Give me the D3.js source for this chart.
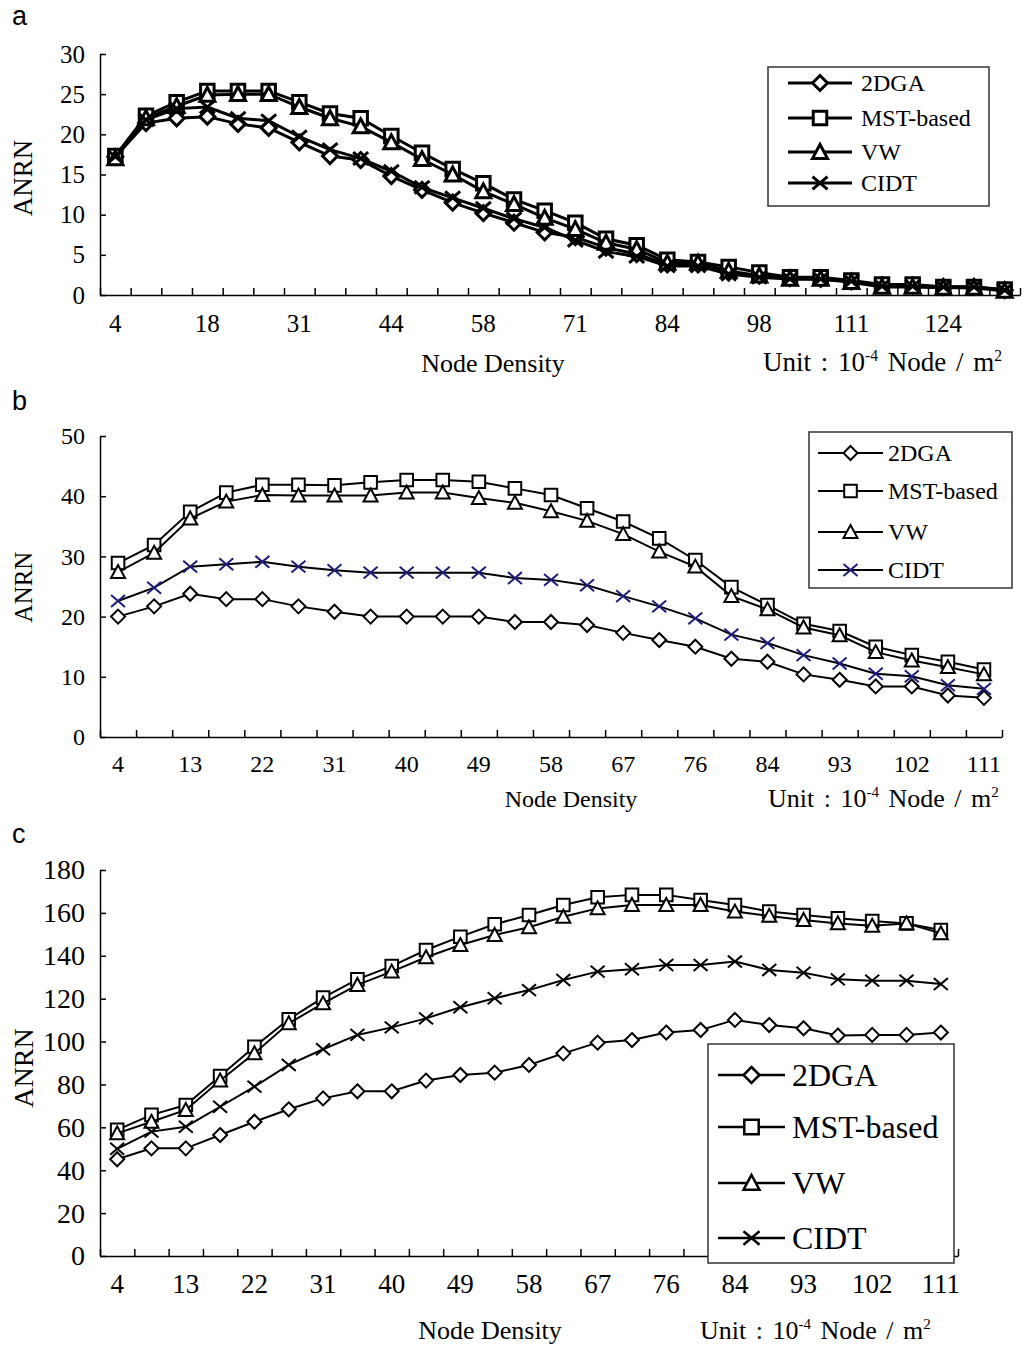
<!DOCTYPE html>
<html>
<head>
<meta charset="utf-8">
<script src="https://cdn.jsdelivr.net/npm/d3@7"></script>
<style>
  body { margin: 0; background: #fff; }
  text { font-family: "Liberation Serif", "Times New Roman", serif; fill: #000; }
  .letter { font-family: "Liberation Sans", Arial, sans-serif; }
</style>
</head>
<body>
<svg id="chart" width="1026" height="1347"></svg>
<script>
// node density categories (unit 10^-4 node / m^2)
const density = [4, 9, 13, 18, 22, 27, 31, 36, 40, 44, 49, 53, 58, 62, 67, 71, 76, 80, 84, 89, 93, 98, 102, 107, 111, 116, 120, 124, 129, 133];

const seriesNames = ['2DGA', 'MST-based', 'VW', 'CIDT'];
const seriesShapes = ['diamond', 'square', 'triangle', 'x'];

// panel a
const yTicksA = [0, 5, 10, 15, 20, 25, 30];
const a2DGA = [17.2, 21.4, 22.0, 22.2, 21.3, 20.8, 19.0, 17.3, 16.8, 14.8, 13.1, 11.5, 10.2, 9.0, 7.8, 7.2, 5.9, 5.1, 3.8, 3.8, 2.8, 2.4, 2.1, 2.0, 1.7, 1.2, 1.2, 1.0, 1.0, 0.6];
const aMST = [17.3, 22.3, 24.0, 25.4, 25.4, 25.4, 24.0, 22.6, 22.0, 19.8, 17.7, 15.7, 13.9, 11.9, 10.5, 9.0, 7.0, 6.2, 4.4, 4.1, 3.5, 2.8, 2.2, 2.2, 1.8, 1.3, 1.3, 1.0, 1.0, 0.7];
const aVW = [17.0, 22.0, 23.5, 24.9, 25.0, 25.0, 23.4, 22.0, 21.0, 19.0, 16.9, 15.0, 12.9, 11.3, 9.6, 8.2, 6.5, 5.7, 4.0, 4.0, 3.0, 2.4, 2.0, 2.0, 1.6, 1.0, 1.0, 0.9, 0.9, 0.5];
const aCIDT = [17.2, 21.8, 23.2, 23.4, 22.0, 21.7, 19.7, 18.1, 17.0, 15.4, 13.4, 12.1, 10.8, 9.5, 8.4, 6.8, 5.4, 4.8, 3.6, 3.6, 2.6, 2.2, 2.0, 2.0, 1.7, 1.1, 1.1, 1.0, 1.0, 0.6];

// panel b
const yTicksB = [0, 10, 20, 30, 40, 50];
const b2DGA = [20.0, 21.7, 23.8, 22.9, 22.9, 21.7, 20.8, 20.0, 20.0, 20.0, 20.0, 19.1, 19.1, 18.6, 17.3, 16.1, 15.0, 13.0, 12.5, 10.4, 9.5, 8.4, 8.4, 6.9, 6.5];
const bMST = [28.9, 31.9, 37.4, 40.6, 41.9, 41.9, 41.8, 42.3, 42.7, 42.7, 42.4, 41.3, 40.2, 38.0, 35.8, 33.0, 29.4, 24.9, 21.9, 18.8, 17.6, 15.0, 13.6, 12.5, 11.2];
const bVW = [27.4, 30.6, 36.3, 39.1, 40.2, 40.1, 40.1, 40.1, 40.6, 40.6, 39.7, 38.9, 37.5, 35.9, 33.7, 30.8, 28.3, 23.4, 21.2, 18.2, 16.9, 14.1, 12.7, 11.6, 10.4];
const bCIDT = [22.6, 24.8, 28.3, 28.7, 29.1, 28.3, 27.7, 27.3, 27.3, 27.3, 27.3, 26.4, 26.1, 25.2, 23.4, 21.7, 19.7, 17.0, 15.6, 13.6, 12.2, 10.5, 10.1, 8.6, 8.0];

// panel c
const yTicksC = [0, 20, 40, 60, 80, 100, 120, 140, 160, 180];
const c2DGA = [45.1, 50.2, 50.2, 56.4, 62.6, 68.4, 73.5, 76.8, 76.8, 81.8, 84.4, 85.5, 89.1, 94.5, 99.5, 100.7, 104.2, 105.4, 110.1, 107.7, 106.2, 102.8, 103.1, 103.1, 104.2];
const cMST = [58.8, 65.8, 70.4, 83.9, 97.6, 110.4, 120.5, 129.0, 135.2, 142.7, 148.9, 154.7, 159.0, 163.7, 167.3, 168.4, 168.4, 166.0, 163.7, 160.6, 159.0, 157.5, 156.2, 155.1, 152.0];
const cVW = [57.2, 62.6, 68.1, 81.8, 94.5, 108.5, 117.8, 126.4, 132.6, 139.3, 145.0, 149.7, 153.3, 158.2, 162.1, 163.7, 163.7, 163.7, 160.6, 158.6, 156.7, 155.1, 154.0, 155.1, 150.5];
const cCIDT = [50.0, 58.0, 60.3, 69.6, 79.0, 89.1, 96.4, 103.1, 106.6, 110.8, 116.0, 120.2, 124.0, 128.7, 132.6, 133.7, 135.7, 135.7, 137.3, 133.4, 132.1, 129.0, 128.4, 128.4, 126.8];

const svg = d3.select('#chart');
const SERIF = 'Liberation Serif, Times New Roman, serif';

// marker path, centred on 0,0
const markerPath = (shape, r) => {
  switch (shape) {
    case 'diamond': return `M0,${-r}L${r},0L0,${r}L${-r},0Z`;
    case 'square': return `M${-r * 0.9},${-r * 0.9}H${r * 0.9}V${r * 0.9}H${-r * 0.9}Z`;
    case 'triangle': return `M0,${-r}L${r},${r * 0.85}L${-r},${r * 0.85}Z`;
    default: return `M${-r},${-r * 0.85}L${r},${r * 0.85}M${-r},${r * 0.85}L${r},${-r * 0.85}`;
  }
};

const drawPanel = p => {
  const n = p.series[0].length;
  const cats = density.slice(0, n);

  svg.append('text')
    .attr('class', 'letter')
    .attr('x', 12)
    .attr('y', p.letterY)
    .style('font-size', '27px')
    .text(p.letter);

  const x = d3.scaleBand().domain(cats).range([p.left, p.right]);
  // boundaries between categories, for the tick marks
  const xEdge = d3.scaleLinear().domain([0, n]).range([p.left, p.right]);
  const y = d3.scaleLinear().domain([0, p.yTicks[p.yTicks.length - 1]]).range([p.bottom, p.top]);

  // y axis, ticks pointing inside
  const yG = svg.append('g')
    .attr('transform', `translate(${p.left},0)`)
    .call(d3.axisLeft(y).tickValues(p.yTicks).tickSizeInner(-6).tickSizeOuter(0).tickPadding(15));
  yG.selectAll('path, line').attr('stroke', '#000').attr('stroke-width', 1.5);
  yG.selectAll('text')
    .style('font-family', SERIF)
    .style('font-size', p.yFont + 'px');

  // x axis line and tick marks between categories
  const xG = svg.append('g')
    .attr('transform', `translate(0,${p.bottom})`)
    .call(d3.axisBottom(xEdge).tickValues(d3.range(0, n + 1)).tickFormat('').tickSizeInner(-7).tickSizeOuter(0));
  xG.selectAll('path, line').attr('stroke', '#000').attr('stroke-width', 1.5);

  // category labels
  const xL = svg.append('g')
    .attr('transform', `translate(0,${p.bottom})`)
    .call(d3.axisBottom(x).tickValues(cats.filter((d, i) => i % p.labelEvery === 0)).tickSize(0));
  xL.select('.domain').remove();
  xL.selectAll('text')
    .attr('y', p.xLabelBase)
    .attr('dy', null)
    .style('font-family', SERIF)
    .style('font-size', p.xFont + 'px');

  // axis titles
  svg.append('text')
    .attr('transform', `translate(${p.yTitle[0]},${p.yTitle[1]}) rotate(-90)`)
    .attr('text-anchor', 'middle')
    .style('font-size', p.yTitle[2] + 'px')
    .text('ANRN');

  svg.append('text')
    .attr('x', p.xTitle[0])
    .attr('y', p.xTitle[1])
    .attr('text-anchor', 'middle')
    .style('font-size', p.xTitle[2] + 'px')
    .text('Node Density');

  const unit = svg.append('text')
    .attr('x', p.unit[0])
    .attr('y', p.unit[1])
    .style('font-size', p.unit[2] + 'px')
    .style('word-spacing', '3px');
  unit.append('tspan').text('Unit : 10');
  unit.append('tspan').attr('dy', -p.unit[2] * 0.38).style('font-size', (p.unit[2] * 0.58) + 'px').text('-4');
  unit.append('tspan').attr('dy', p.unit[2] * 0.38).text(' Node / m');
  unit.append('tspan').attr('dy', -p.unit[2] * 0.38).style('font-size', (p.unit[2] * 0.58) + 'px').text('2');

  // series
  const line = d3.line()
    .x((d, i) => x(cats[i]) + x.bandwidth() / 2)
    .y(d => y(d));

  p.series.forEach((values, s) => {
    const g = svg.append('g');
    g.append('path')
      .datum(values)
      .attr('fill', 'none')
      .attr('stroke', '#000')
      .attr('stroke-width', p.lineWidth)
      .attr('d', line);
    g.selectAll('path.mark')
      .data(values)
      .enter()
      .append('path')
      .attr('class', 'mark')
      .attr('transform', (d, i) => `translate(${x(cats[i]) + x.bandwidth() / 2},${y(d)})`)
      .attr('d', markerPath(seriesShapes[s], p.markR))
      .attr('fill', seriesShapes[s] === 'x' ? 'none' : '#fff')
      .attr('stroke', p.markColors[s])
      .attr('stroke-width', p.markWidth);
  });

  // legend
  const L = p.legend;
  svg.append('rect')
    .attr('x', L.x).attr('y', L.y).attr('width', L.w).attr('height', L.h)
    .attr('fill', '#fff')
    .attr('stroke', '#333')
    .attr('stroke-width', 1.5);
  seriesNames.forEach((name, s) => {
    const ry = L.rows[s];
    svg.append('line')
      .attr('x1', L.lx1).attr('x2', L.lx2).attr('y1', ry).attr('y2', ry)
      .attr('stroke', '#000')
      .attr('stroke-width', L.lw);
    svg.append('path')
      .attr('transform', `translate(${(L.lx1 + L.lx2) / 2},${ry})`)
      .attr('d', markerPath(seriesShapes[s], L.r))
      .attr('fill', seriesShapes[s] === 'x' ? 'none' : '#fff')
      .attr('stroke', p.markColors[s])
      .attr('stroke-width', L.lw);
    svg.append('text')
      .attr('x', L.tx)
      .attr('y', ry)
      .attr('dy', '0.35em')
      .style('font-size', L.font + 'px')
      .text(name);
  });
};

drawPanel({
  letter: 'a', letterY: 25,
  series: [a2DGA, aMST, aVW, aCIDT],
  yTicks: yTicksA,
  left: 100, right: 1020, top: 54, bottom: 295,
  labelEvery: 3, yFont: 25, xFont: 25, xLabelBase: 37,
  yTitle: [32, 178, 27], xTitle: [493, 372, 26], unit: [763, 371, 27],
  lineWidth: 3, markWidth: 3, markR: 7.5,
  markColors: ['#000', '#000', '#000', '#000'],
  legend: { x: 768, y: 67, w: 221, h: 139, rows: [83, 118, 152, 183], lx1: 788, lx2: 852, tx: 861, font: 24, lw: 3, r: 7.5 }
});

drawPanel({
  letter: 'b', letterY: 410,
  series: [b2DGA, bMST, bVW, bCIDT],
  yTicks: yTicksB,
  left: 100, right: 1002, top: 436, bottom: 737,
  labelEvery: 2, yFont: 24, xFont: 24, xLabelBase: 35,
  yTitle: [32, 587, 25], xTitle: [571, 807, 24], unit: [768, 807, 26],
  lineWidth: 2, markWidth: 2, markR: 7,
  markColors: ['#000', '#000', '#000', '#1c1c7c'],
  legend: { x: 809, y: 432, w: 203, h: 156, rows: [453, 491, 532, 570], lx1: 818, lx2: 883, tx: 888, font: 24, lw: 2, r: 7 }
});

drawPanel({
  letter: 'c', letterY: 843,
  series: [c2DGA, cMST, cVW, cCIDT],
  yTicks: yTicksC,
  left: 100, right: 958, top: 870, bottom: 1256,
  labelEvery: 2, yFont: 28, xFont: 27, xLabelBase: 37,
  yTitle: [33, 1068, 28], xTitle: [490, 1339, 26], unit: [700, 1339, 26],
  lineWidth: 2, markWidth: 2, markR: 7,
  markColors: ['#000', '#000', '#000', '#000'],
  legend: { x: 708, y: 1044, w: 246, h: 219, rows: [1075, 1127, 1183, 1238], lx1: 718, lx2: 785, tx: 792, font: 32, lw: 2.5, r: 8 }
});
</script>
</body>
</html>
